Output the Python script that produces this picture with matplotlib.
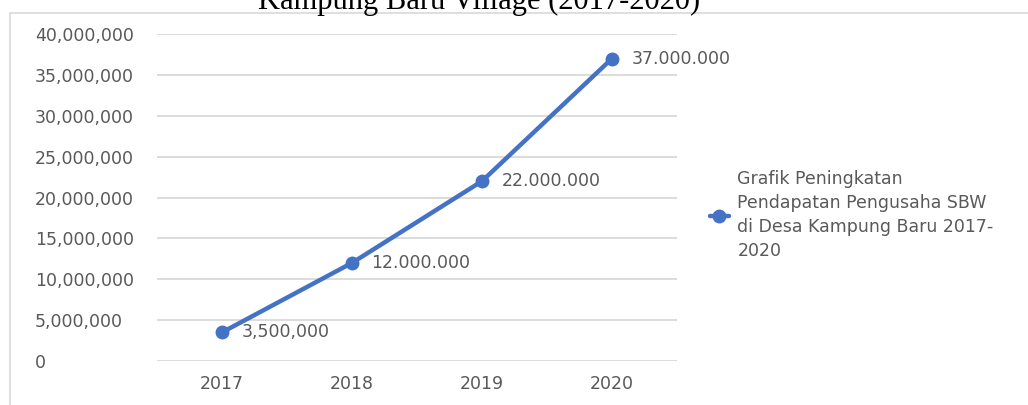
import matplotlib
matplotlib.use("Agg")
import matplotlib.pyplot as plt
from matplotlib.patches import Rectangle

# data
years = ["2017", "2018", "2019", "2020"]
income = [3_500_000, 12_000_000, 22_000_000, 37_000_000]
point_labels = ["3,500,000", "12.000.000", "22.000.000", "37.000.000"]
y_ticks = [0, 5_000_000, 10_000_000, 15_000_000, 20_000_000,
           25_000_000, 30_000_000, 35_000_000, 40_000_000]
series_name = "Grafik Peningkatan\nPendapatan Pengusaha SBW\ndi Desa Kampung Baru 2017-\n2020"
title = "Kampung Baru Village (2017-2020)"

W, H = 1028, 405
blue = "#4472C4"
grey_txt = "#595959"
fs = 12.5

fig = plt.figure(figsize=(W / 100, H / 100), dpi=100)
plt.rcParams["font.family"] = ["DejaVu Sans"]

# chart frame (light border of the embedded Excel chart)
fig.patches.append(Rectangle((10 / W, -0.1), 1.2, (H - 13) / H + 0.1,
                             transform=fig.transFigure, fill=False,
                             edgecolor="#d9d9d9", lw=1.2))

# title, cut off at the top edge as in the screenshot
fig.text(479 / W, 1 - 9 / H, title, ha="center", va="baseline",
         family="Liberation Serif", fontsize=22, color="black")

ax = fig.add_axes([157 / W, 1 - 361 / H, (677 - 157) / W, (361 - 34) / H])
x = list(range(len(years)))
ax.plot(x, income, color=blue, lw=3.2, marker="o", ms=9,
        solid_capstyle="round", label=series_name, zorder=3)

for xi, yi, lab in zip(x, income, point_labels):
    ax.annotate(lab, (xi, yi), xytext=(14, 0), textcoords="offset points",
                va="center", ha="left", fontsize=fs, color=grey_txt)

ax.set_xlim(-0.5, 3.5)
ax.set_ylim(0, 40_000_000)
ax.set_xticks(x)
ax.set_xticklabels(years)
ax.set_yticks(y_ticks)
ax.set_yticklabels([f"{v:,}" for v in y_ticks])
for s in ax.spines.values():
    s.set_visible(False)
ax.grid(axis="y", color="#d9d9d9", lw=1.3)
ax.set_axisbelow(True)
ax.tick_params(length=0, labelsize=fs, colors=grey_txt)
ax.tick_params(axis="x", pad=10)
for t in ax.get_yticklabels():
    t.set_horizontalalignment("left")
ax.tick_params(axis="y", pad=(157 - 35) * 0.72)

leg = fig.legend(loc="center left", bbox_to_anchor=(694 / W, 1 - 215 / H),
                 frameon=False, fontsize=fs, handlelength=1.1,
                 handletextpad=0.5, labelcolor=grey_txt)
for t in leg.get_texts():
    t.set_linespacing(1.45)

fig.savefig("out.png", dpi=100)
